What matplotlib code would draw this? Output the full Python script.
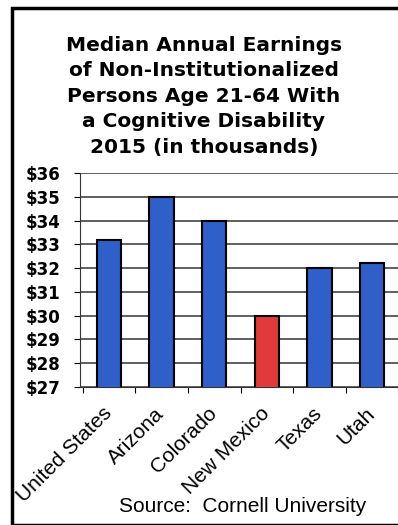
import matplotlib
matplotlib.use("Agg")
import matplotlib.pyplot as plt
from matplotlib.patches import Rectangle

states = ["United States", "Arizona", "Colorado", "New Mexico", "Texas", "Utah"]
earnings = [33.2, 35.0, 34.0, 30.0, 32.0, 32.2]
colors = ["#2f5fc8", "#2f5fc8", "#2f5fc8", "#e03a3a", "#2f5fc8", "#2f5fc8"]
yticks = list(range(27, 37))

plt.rcParams['font.family'] = ['Liberation Sans', 'DejaVu Sans']

fig = plt.figure(figsize=(3.98, 5.25), dpi=100)

# outer frame
fig.patches.append(Rectangle((12/398, 0), 1.0, 1 - 8/525, transform=fig.transFigure,
                             fill=False, edgecolor="black", linewidth=2.5))

fig.text(204/398, 1 - 36/525, "Median Annual Earnings\nof Non-Institutionalized\n"
         "Persons Age 21-64 With\na Cognitive Disability\n2015 (in thousands)",
         ha="center", va="top", fontsize=14.5, fontweight="bold", linespacing=1.43,
         family="DejaVu Sans")

ax = fig.add_axes([80/398, 1 - 387/525, (401 - 80)/398, (387 - 173)/525])
x = range(len(states))
ax.bar(x, earnings, width=0.46, color=colors, edgecolor="black", linewidth=1.5, zorder=3)
ax.set_ylim(27, 36)
ax.set_xlim(-0.55, 5.55)
ax.set_yticks(yticks)
ax.set_yticklabels(["$%d" % v for v in yticks], fontsize=12, fontweight="bold",
                   family="DejaVu Sans")
ax.yaxis.grid(True, color="#444444", linewidth=1.2, zorder=0)
ax.tick_params(axis="y", length=4, direction="out", pad=35.5)
for lab in ax.get_yticklabels():
    lab.set_horizontalalignment("left")

ax.set_xticks([i + 0.5 for i in range(-1, 6)])
ax.set_xticklabels([])
ax.set_xticks(list(x), minor=True)
ax.set_xticklabels(states, minor=True, rotation=45, ha="right", va="center",
                   rotation_mode="anchor", fontsize=15)
ax.tick_params(axis="x", which="minor", length=0, pad=17)
ax.tick_params(axis="x", which="major", length=4, direction="out")
for s in ["top", "right"]:
    ax.spines[s].set_visible(False)
ax.spines["left"].set_color("#333333")
ax.spines["bottom"].set_color("#333333")

fig.text(243/398, 1 - 507/525, "Source:  Cornell University", ha="center", va="center",
         fontsize=15)

fig.savefig("out.png", dpi=100)
